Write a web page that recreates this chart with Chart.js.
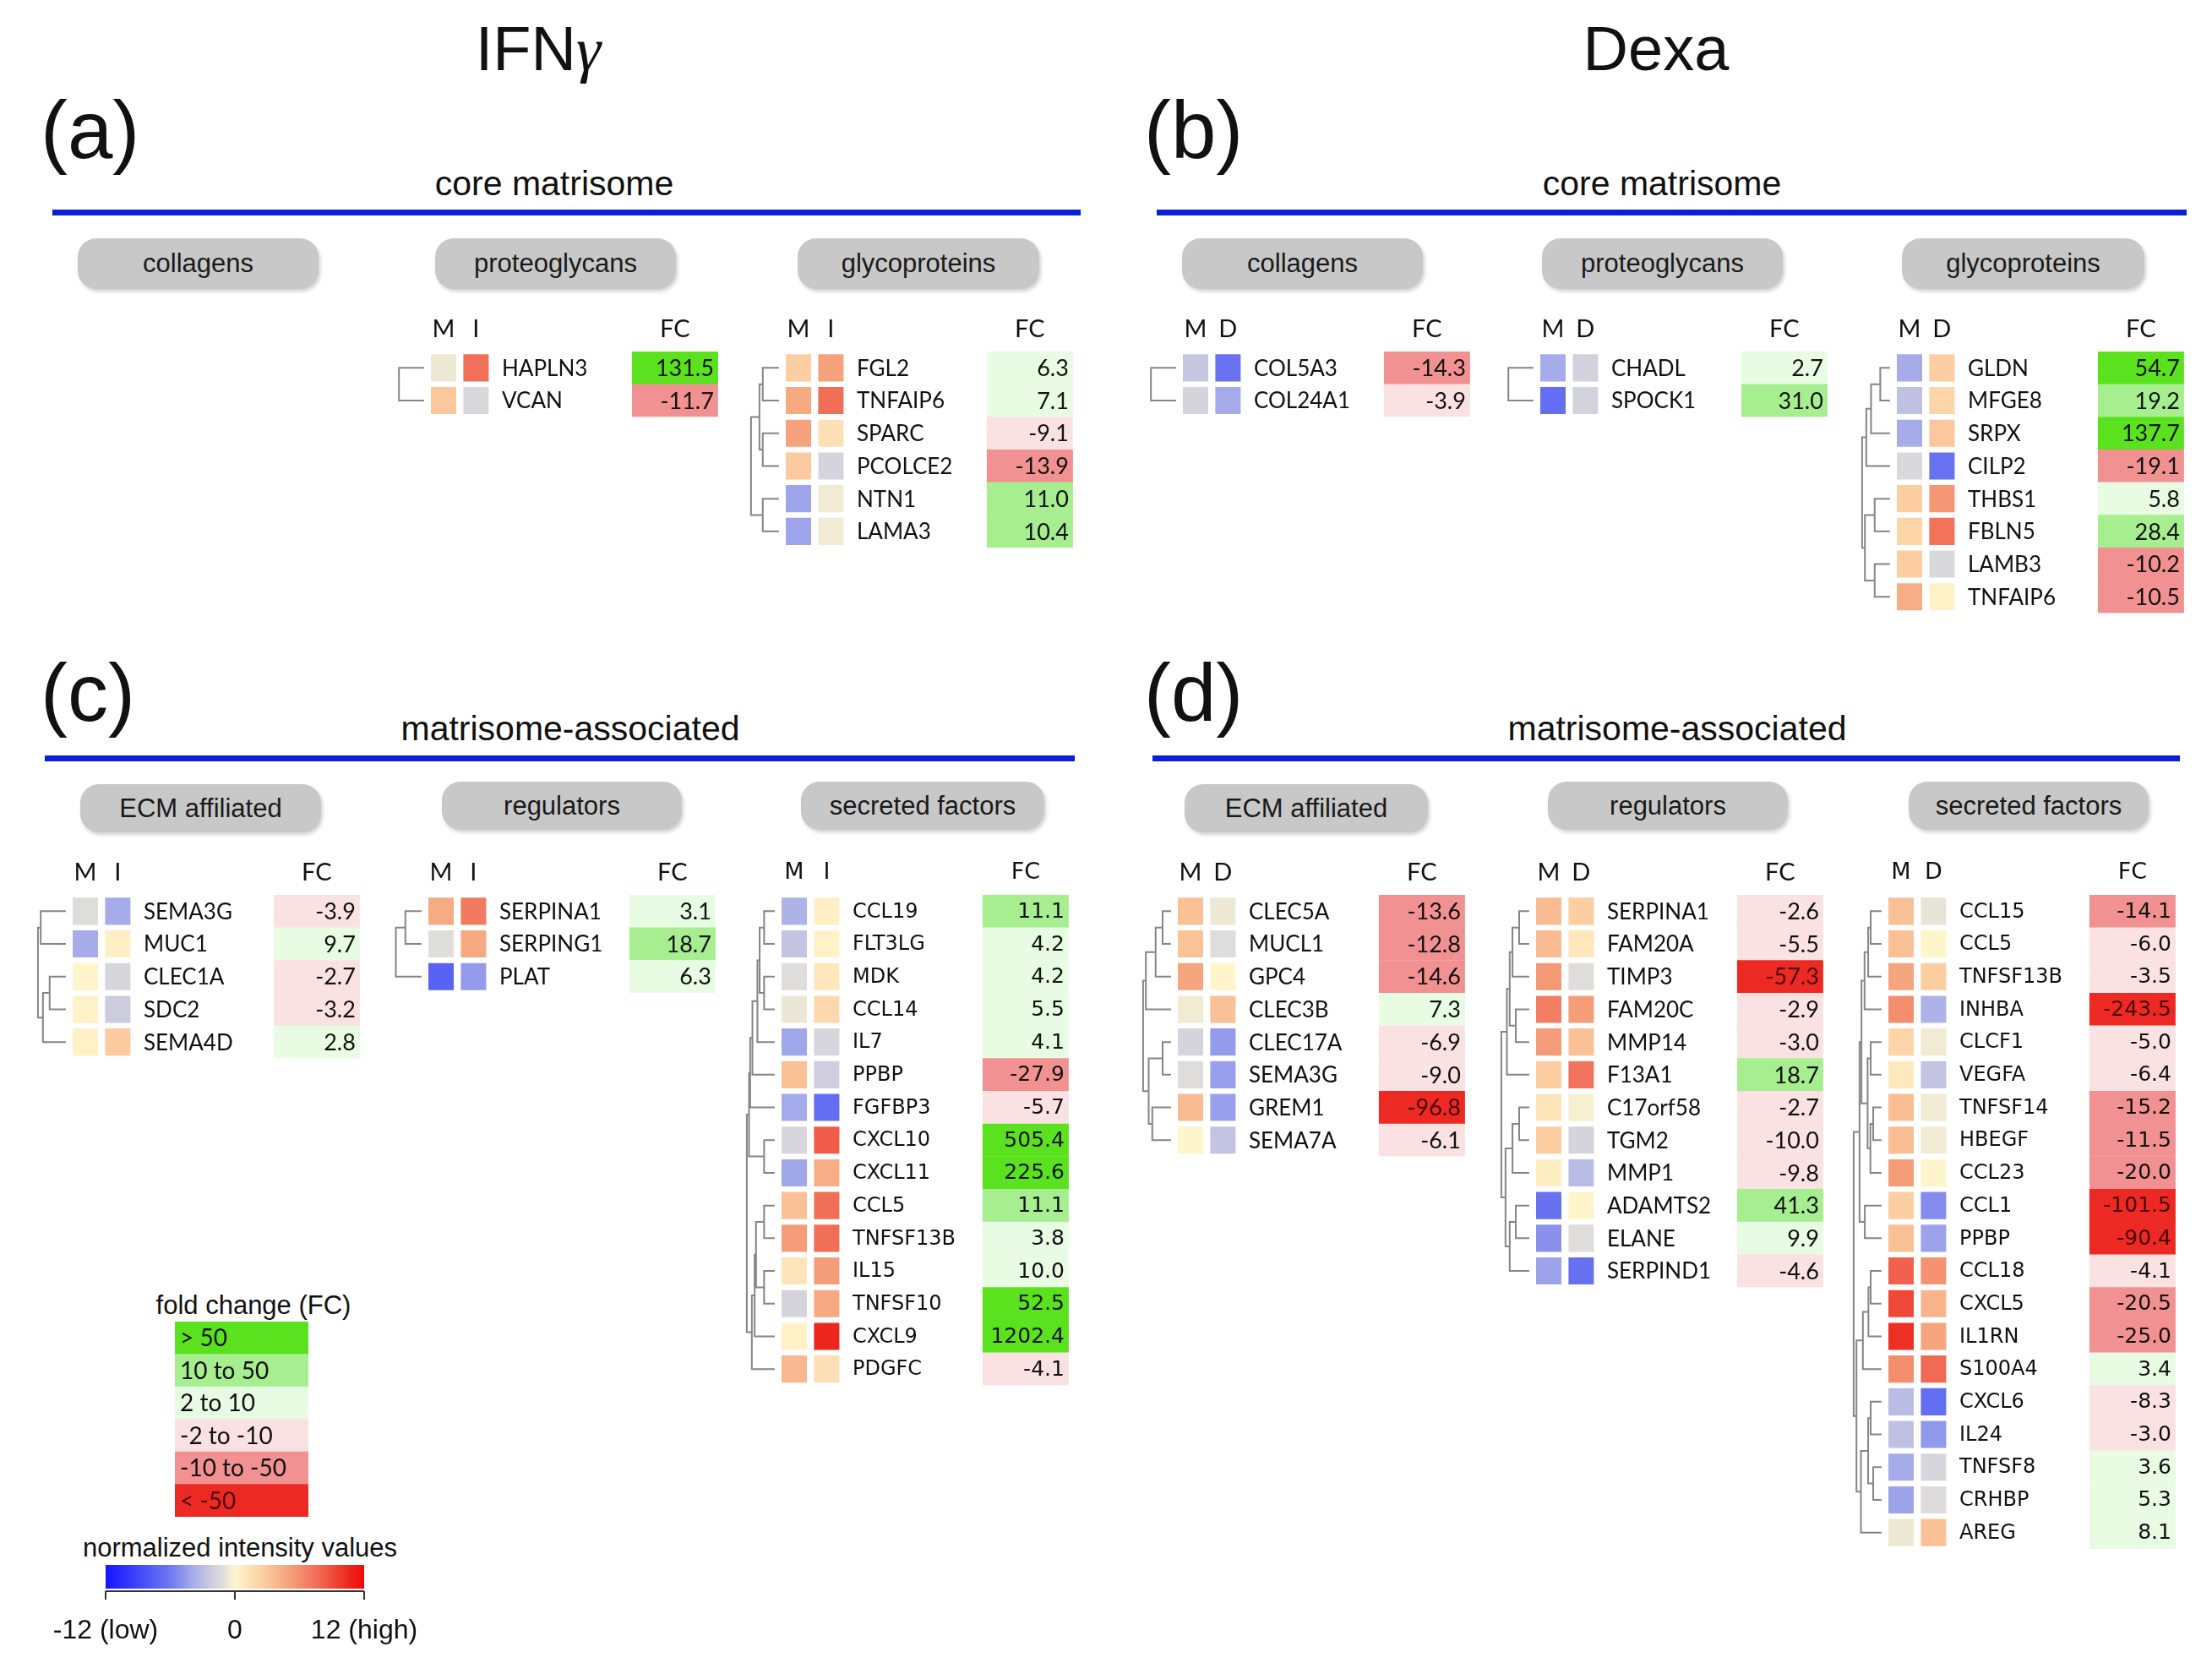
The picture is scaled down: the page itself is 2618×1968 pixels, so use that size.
<!DOCTYPE html>
<html>
<head>
<meta charset="utf-8">
<script src="https://cdn.jsdelivr.net/npm/chart.js@4.4.0/dist/chart.umd.min.js"></script>
<style>
  body { margin: 0; background: #fff; }
  #page { position: relative; width: 2618px; height: 1968px; overflow: hidden; font-family: "Liberation Sans", Arial, sans-serif; color: #111; }
  .t { position: absolute; white-space: nowrap; line-height: 1; }
  .pill { position: absolute; background: #c8c8c8; border-radius: 22px; box-shadow: 2px 3px 4px rgba(0,0,0,0.18);
          display: flex; align-items: center; justify-content: center; font-size: 31px; color: #1a1a1a; }
  .bl { position: absolute; height: 7px; background: #0b1fd8; }
  .box { position: absolute; }
</style>
</head>
<body>
<div id="page"></div>
<script>
// ---------- data: (a) IFNg core matrisome ----------
const aProtGenes = ['HAPLN3', 'VCAN'];
const aProtM = [-0.6, 3.0];
const aProtI = [7.5, -1.5];
const aProtFC = [131.5, -11.7];
const aProtTree = [0.9, 0, 1];

const aGlyGenes = ['FGL2', 'TNFAIP6', 'SPARC', 'PCOLCE2', 'NTN1', 'LAMA3'];
const aGlyM = [2.6, 4.6, 5.0, 2.8, -4.2, -4.2];
const aGlyI = [5.0, 7.6, 1.4, -1.7, -0.5, -0.5];
const aGlyFC = [6.3, 7.1, -9.1, -13.9, 11.0, 10.4];
const aGlyTree = [1, [0.7, [0.58, 0, 1], [0.58, 2, 3]], [0.58, 4, 5]];

// ---------- data: (b) Dexa core matrisome ----------
const bColGenes = ['COL5A3', 'COL24A1'];
const bColM = [-2.5, -1.7];
const bColD = [-6.3, -4.0];
const bColFC = [-14.3, -3.9];
const bColTree = [0.9, 0, 1];

const bProtGenes = ['CHADL', 'SPOCK1'];
const bProtM = [-3.9, -6.6];
const bProtD = [-1.9, -1.8];
const bProtFC = [2.7, 31.0];
const bProtTree = [0.9, 0, 1];

const bGlyGenes = ['GLDN', 'MFGE8', 'SRPX', 'CILP2', 'THBS1', 'FBLN5', 'LAMB3', 'TNFAIP6'];
const bGlyM = [-3.9, -2.8, -3.9, -1.5, 2.6, 2.2, 2.6, 4.4];
const bGlyD = [2.6, 2.2, 3.0, -6.3, 5.6, 7.4, -1.5, 0.3];
const bGlyFC = [54.7, 19.2, 137.7, -19.1, 5.8, 28.4, -10.2, -10.5];
const bGlyTree = [1, [0.85, [0.68, [0.35, 0, 1], 2], 3], [0.9, [0.55, 4, 5], [0.55, 6, 7]]];

// ---------- data: (c) IFNg matrisome-associated ----------
const cEcmGenes = ['SEMA3G', 'MUC1', 'CLEC1A', 'SDC2', 'SEMA4D'];
const cEcmM = [-1.2, -3.9, 0.1, 0.3, 0.4];
const cEcmI = [-3.9, 0.5, -1.6, -2.2, 2.8];
const cEcmFC = [-3.9, 9.7, -2.7, -3.2, 2.8];
const cEcmTree = [1, [0.9, 0, 1], [0.82, [0.58, 2, 3], 4]];

const cRegGenes = ['SERPINA1', 'SERPING1', 'PLAT'];
const cRegM = [4.5, -1.1, -7.4];
const cRegI = [7.0, 4.6, -4.6];
const cRegFC = [3.1, 18.7, 6.3];
const cRegTree = [0.92, [0.58, 0, 1], 2];

const cSecGenes = ['CCL19', 'FLT3LG', 'MDK', 'CCL14', 'IL7', 'PPBP', 'FGFBP3', 'CXCL10', 'CXCL11',
                   'CCL5', 'TNFSF13B', 'IL15', 'TNFSF10', 'CXCL9', 'PDGFC'];
const cSecM = [-3.6, -2.6, -1.2, -0.7, -4.1, 3.3, -4.0, -1.6, -4.1, 3.3, 5.3, 1.2, -1.7, 0.3, 3.8];
const cSecI = [0.5, 0.3, 1.0, 2.0, -1.6, -2.1, -6.6, 8.4, 4.4, 7.6, 7.6, 5.3, 4.6, 10.6, 1.4];
const cSecFC = [11.1, 4.2, 4.2, 5.5, 4.1, -27.9, -5.7, 505.4, 225.6, 11.1, 3.8, 10.0, 52.5, 1202.4, -4.1];
const cSecTree = [1,
  [0.92, [0.88, [0.8, [0.62, [0.54, [0.38, 0, 1], [0.38, 2, 3]], 4], 5], 6], [0.38, 7, 8]],
  [0.82, [0.72, [0.67, [0.38, 9, 10], [0.38, 11, 12]], 13], 14]];

// ---------- data: (d) Dexa matrisome-associated ----------
const dEcmGenes = ['CLEC5A', 'MUCL1', 'GPC4', 'CLEC3B', 'CLEC17A', 'SEMA3G', 'GREM1', 'SEMA7A'];
const dEcmM = [3.3, 3.2, 4.8, -0.5, -1.7, -1.2, 3.6, 0.1];
const dEcmD = [-0.6, -1.2, 0.1, 3.3, -4.6, -4.4, -4.4, -2.6];
const dEcmFC = [-13.6, -12.8, -14.6, 7.3, -6.9, -9.0, -96.8, -6.1];
const dEcmTree = [1, [0.9, [0.55, [0.3, 0, 1], 2], 3], [0.8, [0.3, 4, 5], [0.67, 6, 7]]];

const dRegGenes = ['SERPINA1', 'FAM20A', 'TIMP3', 'FAM20C', 'MMP14', 'F13A1', 'C17orf58', 'TGM2',
                   'MMP1', 'ADAMTS2', 'ELANE', 'SERPIND1'];
const dRegM = [3.6, 3.6, 5.4, 6.8, 5.3, 2.6, 1.2, 2.6, 0.6, -6.4, -5.0, -4.3];
const dRegD = [2.6, 1.0, -1.2, 5.3, 3.3, 7.3, -0.3, -1.7, -3.1, 0.1, -1.2, -6.4];
const dRegFC = [-2.6, -5.5, -57.3, -2.9, -3.0, 18.7, -2.7, -10.0, -9.8, 41.3, 9.9, -4.6];
const dRegTree = [1,
  [0.8, [0.7, [0.6, [0.36, 0, 1], 2], [0.48, 3, 4]], 5],
  [0.85, [0.6, [0.36, 6, 7], 8], [0.7, [0.48, 9, 10], 11]]];

const dSecGenes = ['CCL15', 'CCL5', 'TNFSF13B', 'INHBA', 'CLCF1', 'VEGFA', 'TNFSF14', 'HBEGF', 'CCL23',
                   'CCL1', 'PPBP', 'CCL18', 'CXCL5', 'IL1RN', 'S100A4', 'CXCL6', 'IL24', 'TNFSF8',
                   'CRHBP', 'AREG'];
const dSecM = [3.3, 3.3, 4.8, 6.0, 2.2, 0.9, 3.5, 3.5, 5.3, 2.6, 3.3, 8.1, 9.2, 10.2, 6.0, -3.0, -2.8, -3.9, -4.3, -0.6];
const dSecD = [-0.8, 0.1, 2.6, -3.6, -0.5, -2.6, -0.5, -0.5, 0.1, -5.2, -4.3, 5.8, 4.0, 4.9, 7.8, -6.6, -4.7, -1.6, -1.3, 3.3];
const dSecFC = [-14.1, -6.0, -3.5, -243.5, -5.0, -6.4, -15.2, -11.5, -20.0, -101.5, -90.4, -4.1, -20.5,
                -25.0, 3.4, -8.3, -3.0, 3.6, 5.3, 8.1];
const dSecTree = [1,
  [0.79, [0.72, [0.61, [0.48, [0.39, 0, 1], 2], 3], [0.5, [0.39, 4, 5], [0.4, [0.3, 6, 7], 8]]], [0.6, 9, 10]],
  [0.9, [0.67, [0.47, [0.39, 11, 12], 13], 14], [0.74, [0.48, [0.39, 15, 16], [0.3, 17, 18]], 19]]];

// ---------- legends ----------
const fcBinLabels = ['> 50', '10 to 50', '2 to 10', '-2 to -10', '-10 to -50', '< -50'];
const scaleTicks = [-12, 0, 12];
const scaleTickLabels = ['-12 (low)', '0', '12 (high)'];

// ---------- styles ----------
const FC_COLORS = ['#5ae21e', '#a6ee90', '#e8fbe3', '#fbe2e2', '#f29191', '#ec2a23'];
const HEAT_STOPS = [
  [-12, [20, 20, 255]], [-8, [78, 88, 246]], [-6, [110, 120, 240]], [-4, [164, 170, 234]],
  [-2.2, [204, 204, 222]], [-1, [226, 224, 218]], [0, [255, 246, 205]], [2.4, [252, 210, 165]],
  [5, [246, 162, 124]], [7.7, [241, 108, 86]], [10.5, [238, 40, 30]], [12, [238, 10, 10]]
];

function fcBin(v) {
  if (v > 50) return 0;
  if (v > 10) return 1;
  if (v > 0) return 2;
  if (v >= -10) return 3;
  if (v >= -50) return 4;
  return 5;
}
function fcColor(v) { return FC_COLORS[fcBin(v)]; }

function heatColor(v) {
  v = Math.max(-12, Math.min(12, v));
  for (let i = 1; i < HEAT_STOPS.length; i++) {
    const a = HEAT_STOPS[i - 1], b = HEAT_STOPS[i];
    if (v <= b[0]) {
      const f = (v - a[0]) / (b[0] - a[0]);
      const c = a[1].map((ch, k) => Math.round(ch + (b[1][k] - ch) * f));
      return 'rgb(' + c.join(',') + ')';
    }
  }
  return 'rgb(238,10,10)';
}

const page = document.getElementById('page');

// baseline-positioned text (Liberation Sans metrics)
function addText(html, size, x, baseline, align) {
  const d = document.createElement('div');
  d.className = 't';
  d.style.fontSize = size + 'px';
  d.style.top = (baseline - 0.8465 * size) + 'px';
  d.style.left = x + 'px';
  if (align === 'center') d.style.transform = 'translateX(-50%)';
  d.innerHTML = html;
  page.appendChild(d);
}
function addPill(txt, x1, x2, y1, y2) {
  const d = document.createElement('div');
  d.className = 'pill';
  d.style.left = x1 + 'px'; d.style.top = y1 + 'px';
  d.style.width = (x2 - x1) + 'px'; d.style.height = (y2 - y1) + 'px';
  d.textContent = txt;
  page.appendChild(d);
}
function addLine(x1, x2, y) {
  const d = document.createElement('div');
  d.className = 'bl';
  d.style.left = x1 + 'px'; d.style.top = y + 'px'; d.style.width = (x2 - x1) + 'px';
  page.appendChild(d);
}

// titles, panel letters, section headings
addText('IFN<span style="font-family:\'Liberation Serif\',serif;font-style:italic">&gamma;</span>', 74, 637, 84, 'center');
addText('Dexa', 74, 1960, 84, 'center');
addText('(a)', 96, 48, 187);
addText('(b)', 96, 1354, 187);
addText('(c)', 96, 48, 853);
addText('(d)', 96, 1354, 853);
addText('core matrisome', 41, 656, 232, 'center');
addText('core matrisome', 41, 1967, 232, 'center');
addText('matrisome-associated', 41, 675, 877, 'center');
addText('matrisome-associated', 41, 1985, 877, 'center');
addLine(62, 1279, 248);
addLine(1369, 2588, 248);
addLine(53, 1272, 894);
addLine(1364, 2580, 894);
addPill('collagens', 92, 377, 282, 342);
addPill('proteoglycans', 515, 800, 282, 342);
addPill('glycoproteins', 944, 1230, 282, 342);
addPill('collagens', 1399, 1684, 282, 342);
addPill('proteoglycans', 1825, 2110, 282, 342);
addPill('glycoproteins', 2251, 2538, 282, 342);
addPill('ECM affiliated', 95, 380, 928, 985);
addPill('regulators', 523, 807, 925, 982);
addPill('secreted factors', 948, 1236, 925, 982);
addPill('ECM affiliated', 1402, 1690, 928, 985);
addPill('regulators', 1832, 2116, 925, 982);
addPill('secreted factors', 2259, 2543, 925, 982);

// ---------- heatmap groups ----------
const UNIT = 30, PITCH = 38.7, PAD_TOP = 62, XMIN = -1.7, XMAX = 11.4;
const COL_X = [[0, 1], [1.28, 2.28]];
const NAME_X = 2.8, FC_X = [7.93, 11.33];
const LEAF_X = -0.27, TREE_W = 1.1;
const CAL = { name: '26px Lato', fc: '27px Lato', head: '29px Lato' };
const VER = { name: '24px "DejaVu Sans"', fc: '25px "DejaVu Sans"', head: '27px "DejaVu Sans"' };

const groups = [
  { genes: aProtGenes, m: aProtM, t: aProtI, fc: aProtFC, tree: aProtTree, cols: ['M', 'I'], left: 510, row1: 435, font: CAL },
  { genes: aGlyGenes, m: aGlyM, t: aGlyI, fc: aGlyFC, tree: aGlyTree, cols: ['M', 'I'], left: 930, row1: 435, font: CAL },
  { genes: bColGenes, m: bColM, t: bColD, fc: bColFC, tree: bColTree, cols: ['M', 'D'], left: 1400, row1: 435, font: CAL },
  { genes: bProtGenes, m: bProtM, t: bProtD, fc: bProtFC, tree: bProtTree, cols: ['M', 'D'], left: 1823, row1: 435, font: CAL },
  { genes: bGlyGenes, m: bGlyM, t: bGlyD, fc: bGlyFC, tree: bGlyTree, cols: ['M', 'D'], left: 2245, row1: 435, font: CAL },
  { genes: cEcmGenes, m: cEcmM, t: cEcmI, fc: cEcmFC, tree: cEcmTree, cols: ['M', 'I'], left: 86, row1: 1078, font: CAL },
  { genes: cRegGenes, m: cRegM, t: cRegI, fc: cRegFC, tree: cRegTree, cols: ['M', 'I'], left: 507, row1: 1078, font: CAL },
  { genes: cSecGenes, m: cSecM, t: cSecI, fc: cSecFC, tree: cSecTree, cols: ['M', 'I'], left: 925, row1: 1078, font: VER },
  { genes: dEcmGenes, m: dEcmM, t: dEcmD, fc: dEcmFC, tree: dEcmTree, cols: ['M', 'D'], left: 1394, row1: 1078, font: CAL },
  { genes: dRegGenes, m: dRegM, t: dRegD, fc: dRegFC, tree: dRegTree, cols: ['M', 'D'], left: 1818, row1: 1078, font: CAL },
  { genes: dSecGenes, m: dSecM, t: dSecD, fc: dSecFC, tree: dSecTree, cols: ['M', 'D'], left: 2235, row1: 1078, font: VER }
];

function groupPlugin(g) {
  return {
    id: 'heatGroup',
    afterDatasetsDraw(chart) {
      const ctx = chart.ctx, area = chart.chartArea;
      const xs = chart.scales.x, ys = chart.scales.y;
      ctx.save();
      // dendrogram
      ctx.strokeStyle = '#858585';
      ctx.lineWidth = 2;
      const walk = (node) => {
        if (typeof node === 'number') return { x: xs.getPixelForValue(LEAF_X), y: ys.getPixelForValue(node) };
        const a = walk(node[1]), b = walk(node[2]);
        const x = xs.getPixelForValue(LEAF_X - node[0] * TREE_W);
        ctx.beginPath();
        ctx.moveTo(a.x, a.y); ctx.lineTo(x, a.y); ctx.lineTo(x, b.y); ctx.lineTo(b.x, b.y);
        ctx.stroke();
        return { x: x, y: (a.y + b.y) / 2 };
      };
      walk(g.tree);
      // column headers
      ctx.fillStyle = '#111';
      ctx.font = g.font.head;
      ctx.textAlign = 'center';
      ctx.textBaseline = 'middle';
      const hy = area.top - 26;
      ctx.fillText(g.cols[0], xs.getPixelForValue((COL_X[0][0] + COL_X[0][1]) / 2), hy);
      ctx.fillText(g.cols[1], xs.getPixelForValue((COL_X[1][0] + COL_X[1][1]) / 2), hy);
      ctx.fillText('FC', xs.getPixelForValue((FC_X[0] + FC_X[1]) / 2), hy);
      // gene names and FC values
      g.genes.forEach((name, i) => {
        const y = ys.getPixelForValue(i) + 1;
        ctx.font = g.font.name;
        ctx.textAlign = 'left';
        ctx.fillStyle = '#111';
        ctx.fillText(name, xs.getPixelForValue(NAME_X), y);
        ctx.font = g.font.fc;
        ctx.textAlign = 'right';
        ctx.fillStyle = fcBin(g.fc[i]) === 5 ? '#4a0505' : '#111';
        ctx.fillText(g.fc[i].toFixed(1), xs.getPixelForValue(FC_X[1]) - 5, y);
      });
      ctx.restore();
    }
  };
}

function makeGroup(g) {
  const n = g.genes.length;
  const div = document.createElement('div');
  div.className = 'box';
  div.style.left = (g.left + XMIN * UNIT) + 'px';
  div.style.top = (g.row1 - PITCH / 2 - PAD_TOP) + 'px';
  div.style.width = ((XMAX - XMIN) * UNIT) + 'px';
  div.style.height = (PAD_TOP + n * PITCH + 2) + 'px';
  const cv = document.createElement('canvas');
  div.appendChild(cv);
  page.appendChild(div);
  const common = { categoryPercentage: 1, grouped: false, borderWidth: 0, borderSkipped: false };
  new Chart(cv, {
    type: 'bar',
    data: {
      labels: g.genes,
      datasets: [
        Object.assign({ data: g.fc.map(() => [FC_X[0], FC_X[1]]), backgroundColor: g.fc.map(fcColor), barPercentage: 1.01 }, common),
        Object.assign({ data: g.m.map(() => [COL_X[0][0], COL_X[0][1]]), backgroundColor: g.m.map(heatColor), barPercentage: 0.83 }, common),
        Object.assign({ data: g.t.map(() => [COL_X[1][0], COL_X[1][1]]), backgroundColor: g.t.map(heatColor), barPercentage: 0.83 }, common)
      ]
    },
    options: {
      indexAxis: 'y',
      responsive: true,
      maintainAspectRatio: false,
      animation: false,
      layout: { padding: { top: PAD_TOP, bottom: 2, left: 0, right: 0 } },
      scales: {
        x: { type: 'linear', min: XMIN, max: XMAX, display: false },
        y: { display: false }
      },
      plugins: { legend: { display: false }, tooltip: { enabled: false } }
    },
    plugins: [groupPlugin(g)]
  });
}
groups.forEach(makeGroup);

// ---------- fold change legend ----------
addText('fold change (FC)', 31, 300, 1555, 'center');
(function () {
  const div = document.createElement('div');
  div.className = 'box';
  div.style.left = '207px'; div.style.top = '1564px';
  div.style.width = '158px'; div.style.height = '231px';
  const cv = document.createElement('canvas');
  div.appendChild(cv); page.appendChild(div);
  new Chart(cv, {
    type: 'bar',
    data: {
      labels: fcBinLabels,
      datasets: [{ data: fcBinLabels.map(() => [0, 1]), backgroundColor: FC_COLORS,
                   barPercentage: 1.01, categoryPercentage: 1, borderWidth: 0, borderSkipped: false }]
    },
    options: {
      indexAxis: 'y', responsive: true, maintainAspectRatio: false, animation: false,
      layout: { padding: 0 },
      scales: { x: { type: 'linear', min: 0, max: 1, display: false }, y: { display: false } },
      plugins: { legend: { display: false }, tooltip: { enabled: false } }
    },
    plugins: [{
      id: 'binText',
      afterDatasetsDraw(chart) {
        const ctx = chart.ctx, xs = chart.scales.x, ys = chart.scales.y;
        ctx.save();
        ctx.font = '28px Lato';
        ctx.textAlign = 'left';
        ctx.textBaseline = 'middle';
        fcBinLabels.forEach((l, i) => {
          ctx.fillStyle = i === 5 ? '#4a0505' : '#111';
          ctx.fillText(l, xs.getPixelForValue(0) + 6, ys.getPixelForValue(i) + 1);
        });
        ctx.restore();
      }
    }]
  });
})();

// ---------- intensity colour bar ----------
addText('normalized intensity values', 31, 284, 1842, 'center');
(function () {
  const div = document.createElement('div');
  div.className = 'box';
  div.style.left = '40px'; div.style.top = '1845px';
  div.style.width = '480px'; div.style.height = '115px';
  const cv = document.createElement('canvas');
  div.appendChild(cv); page.appendChild(div);
  new Chart(cv, {
    type: 'bar',
    data: {
      labels: [''],
      datasets: [{
        data: [[scaleTicks[0], scaleTicks[scaleTicks.length - 1]]],
        backgroundColor: (c) => {
          const ch = c.chart, ca = ch.chartArea;
          if (!ca) return '#ccc';
          const xs = ch.scales.x;
          const grd = ch.ctx.createLinearGradient(ca.left, 0, ca.right, 0);
          HEAT_STOPS.forEach(s => {
            grd.addColorStop((xs.getPixelForValue(s[0]) - ca.left) / (ca.right - ca.left), 'rgb(' + s[1].join(',') + ')');
          });
          return grd;
        },
        barPercentage: 1, categoryPercentage: 1, borderWidth: 0, borderSkipped: false
      }]
    },
    options: {
      indexAxis: 'y', responsive: true, maintainAspectRatio: false, animation: false,
      layout: { padding: { left: 85, right: 89, top: 7, bottom: 80 } },
      scales: { x: { type: 'linear', min: -12, max: 12, display: false }, y: { display: false } },
      plugins: { legend: { display: false }, tooltip: { enabled: false } }
    },
    plugins: [{
      id: 'barAxis',
      afterDraw(chart) {
        const ctx = chart.ctx, ca = chart.chartArea, xs = chart.scales.x;
        ctx.save();
        ctx.strokeStyle = '#333';
        ctx.lineWidth = 2;
        const ay = ca.bottom + 3;
        ctx.beginPath();
        ctx.moveTo(xs.getPixelForValue(scaleTicks[0]), ay);
        ctx.lineTo(xs.getPixelForValue(scaleTicks[scaleTicks.length - 1]), ay);
        scaleTicks.forEach(v => {
          const px = xs.getPixelForValue(v);
          ctx.moveTo(px, ay); ctx.lineTo(px, ay + 10);
        });
        ctx.stroke();
        ctx.fillStyle = '#111';
        ctx.font = '32px "Liberation Sans"';
        ctx.textAlign = 'center';
        ctx.textBaseline = 'alphabetic';
        scaleTicks.forEach((v, i) => {
          ctx.fillText(scaleTickLabels[i], xs.getPixelForValue(v), ca.bottom + 59);
        });
        ctx.restore();
      }
    }]
  });
})();
</script>
</body>
</html>
